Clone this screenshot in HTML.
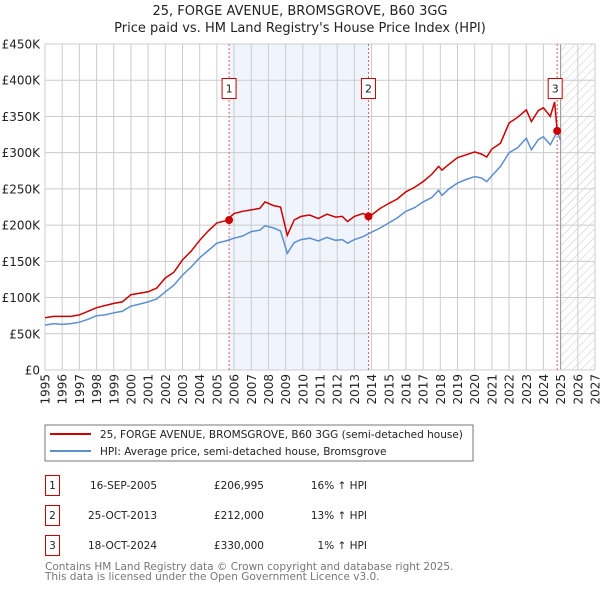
<!DOCTYPE html>
<html><head><meta charset="utf-8"><style>
body{margin:0;background:#fff;font-family:"Liberation Sans","DejaVu Sans",sans-serif;}
svg{display:block}
text{font-family:"DejaVu Sans","Liberation Sans",sans-serif;}
</style></head><body>
<svg id="c" width="600" height="590" viewBox="0 0 600 590">
<defs><pattern id="hatch" width="6" height="6" patternUnits="userSpaceOnUse" patternTransform="rotate(45)"><line x1="0" y1="0" x2="0" y2="6" stroke="#c8c8c8" stroke-width="1"/></pattern></defs>
<text x="300" y="15" text-anchor="middle" font-size="13" fill="#222">25, FORGE AVENUE, BROMSGROVE, B60 3GG</text>
<text x="300" y="32" text-anchor="middle" font-size="13" fill="#222">Price paid vs. HM Land Registry's House Price Index (HPI)</text>
<g id="plot"></g>
<rect x="45" y="425" width="428" height="36" fill="#fff" stroke="#777"/>
<line x1="50" y1="434" x2="91" y2="434" stroke="#cc0000" stroke-width="2"/>
<text x="100" y="438" font-size="10.5" fill="#222">25, FORGE AVENUE, BROMSGROVE, B60 3GG (semi-detached house)</text>
<line x1="50" y1="451" x2="91" y2="451" stroke="#5b8fd0" stroke-width="2"/>
<text x="100" y="455" font-size="10.5" fill="#222">HPI: Average price, semi-detached house, Bromsgrove</text>
<g font-size="10.5" fill="#222">
<rect x="45.5" y="475.5" width="14" height="20" fill="none" stroke="#cc0000"/><text x="52.5" y="489" text-anchor="middle">1</text>
<text x="157" y="489" text-anchor="end">16-SEP-2005</text><text x="264" y="489" text-anchor="end">£206,995</text><text x="367" y="489" text-anchor="end">16% ↑ HPI</text>
<rect x="45.5" y="505.5" width="14" height="20" fill="none" stroke="#cc0000"/><text x="52.5" y="519" text-anchor="middle">2</text>
<text x="157" y="519" text-anchor="end">25-OCT-2013</text><text x="264" y="519" text-anchor="end">£212,000</text><text x="367" y="519" text-anchor="end">13% ↑ HPI</text>
<rect x="45.5" y="535.5" width="14" height="20" fill="none" stroke="#cc0000"/><text x="52.5" y="549" text-anchor="middle">3</text>
<text x="157" y="549" text-anchor="end">18-OCT-2024</text><text x="264" y="549" text-anchor="end">£330,000</text><text x="367" y="549" text-anchor="end">1% ↑ HPI</text>
</g>
<text x="45" y="570" font-size="10.5" fill="#777">Contains HM Land Registry data © Crown copyright and database right 2025.</text>
<text x="45" y="580" font-size="10.5" fill="#777">This data is licensed under the Open Government Licence v3.0.</text>
</svg>
<script>
const years=[1995,1995.5,1996,1996.5,1997,1997.5,1998,1998.5,1999,1999.5,2000,2000.5,2001,2001.5,2002,2002.5,2003,2003.5,2004,2004.5,2005,2005.5,2006,2006.5,2007,2007.5,2007.8,2008.3,2008.7,2009.1,2009.5,2009.9,2010.4,2010.9,2011.4,2011.9,2012.3,2012.6,2013,2013.5,2013.9,2014.5,2015,2015.5,2016,2016.5,2017,2017.5,2017.9,2018.1,2018.5,2019,2019.5,2020,2020.4,2020.7,2021,2021.5,2022,2022.5,2023,2023.3,2023.7,2024,2024.4,2024.65,2024.8,2025];
const hpi=[62,64,63,64,66,70,75,76,79,81,88,91,94,98,108,117,131,142,155,165,175,178,182,185,191,193,199,196,192,161,176,180,182,178,183,179,180,175,180,184,189,196,203,210,219,224,232,238,248,241,250,258,263,267,265,260,268,281,300,307,320,304,318,322,311,322,330,317];
const price=[72,74,74,74,76,81,86,89,92,94,104,106,108,113,127,135,152,164,179,192,203,206,216,219,221,223,232,227,225,186,207,212,214,209,215,211,212,205,212,216,212,223,230,236,246,252,260,270,281,276,284,293,297,301,298,294,305,313,341,349,359,343,358,362,350,370,330,330];
const saleYears=[2005.71,2013.82,2024.8];
const saleValues=[206.995,212,330];
const yTicks=[0,50,100,150,200,250,300,350,400,450];
const xTicks=[1995,1996,1997,1998,1999,2000,2001,2002,2003,2004,2005,2006,2007,2008,2009,2010,2011,2012,2013,2014,2015,2016,2017,2018,2019,2020,2021,2022,2023,2024,2025,2026,2027];
const X0=45,X1=595,Y0=370,Y1=44;
const sx=y=>X0+(y-1995)/(2027-1995)*(X1-X0);
const sy=v=>Y0-v/450*(Y0-Y1);
const NS='http://www.w3.org/2000/svg';
const g=document.getElementById('plot');
function mk(t,a){const e=document.createElementNS(NS,t);for(const k in a)e.setAttribute(k,a[k]);g.appendChild(e);return e;}
let e=mk('rect',{x:sx(saleYears[0]),y:Y1,width:sx(saleYears[1])-sx(saleYears[0]),height:Y0-Y1,fill:'#f0f4fd'});


e=mk('rect',{x:sx(2025),y:Y1,width:X1-sx(2025),height:Y0-Y1,fill:'url(#hatch)'});


yTicks.forEach(v=>{
 let l=mk('line',{x1:X0,x2:X1,y1:sy(v),y2:sy(v),stroke:'#ccc','stroke-width':1});
 
 
 let t=mk('text',{x:40,y:sy(v)+4.5,'text-anchor':'end','font-size':12,fill:'#222'});
 t.textContent='£'+v+(v?'K':'');
 
 
});
xTicks.forEach(yr=>{
 let l=mk('line',{x1:sx(yr),x2:sx(yr),y1:Y1,y2:Y0,stroke:'#ccc','stroke-width':1});
 
 
 let t=mk('text',{x:0,y:0,'text-anchor':'end','font-size':12,fill:'#222',transform:`translate(${sx(yr)+4.5},${Y0+4}) rotate(-90)`});
 t.textContent=yr;
 
 
});
e=mk('line',{x1:sx(2025),x2:sx(2025),y1:Y1,y2:Y0,stroke:'#999','stroke-width':1});


e=mk('rect',{x:X0,y:Y1,width:X1-X0,height:Y0-Y1,fill:'none',stroke:'#ccc'});


saleYears.forEach((yr,i)=>{
 let l=mk('line',{x1:sx(yr),x2:sx(yr),y1:Y1,y2:Y0,stroke:'#e06060','stroke-width':1,'stroke-dasharray':'2,2'});
 
 
});
const pts=(arr)=>arr.map((v,i)=>sx(years[i]).toFixed(1)+','+sy(v).toFixed(1)).join(' ');
e=mk('polyline',{points:pts(hpi),fill:'none',stroke:'#5b8fd0','stroke-width':1.5});


e=mk('polyline',{points:pts(price),fill:'none',stroke:'#cc0000','stroke-width':1.5});


saleYears.forEach((yr,i)=>{
 let c=mk('circle',{cx:sx(yr),cy:sy(saleValues[i]),r:4,fill:'#cc0000'});
 
 
 let bx=sx(yr)-7-(i==2?2:0);
 let r=mk('rect',{x:bx,y:78.5,width:14,height:20,fill:'#fff',stroke:'#cc0000'});
 
 
 let t=mk('text',{x:bx+7,y:92.5,'text-anchor':'middle','font-size':11,fill:'#222'});
 t.textContent=String(i+1);
 
 
});
</script>
</body></html>
